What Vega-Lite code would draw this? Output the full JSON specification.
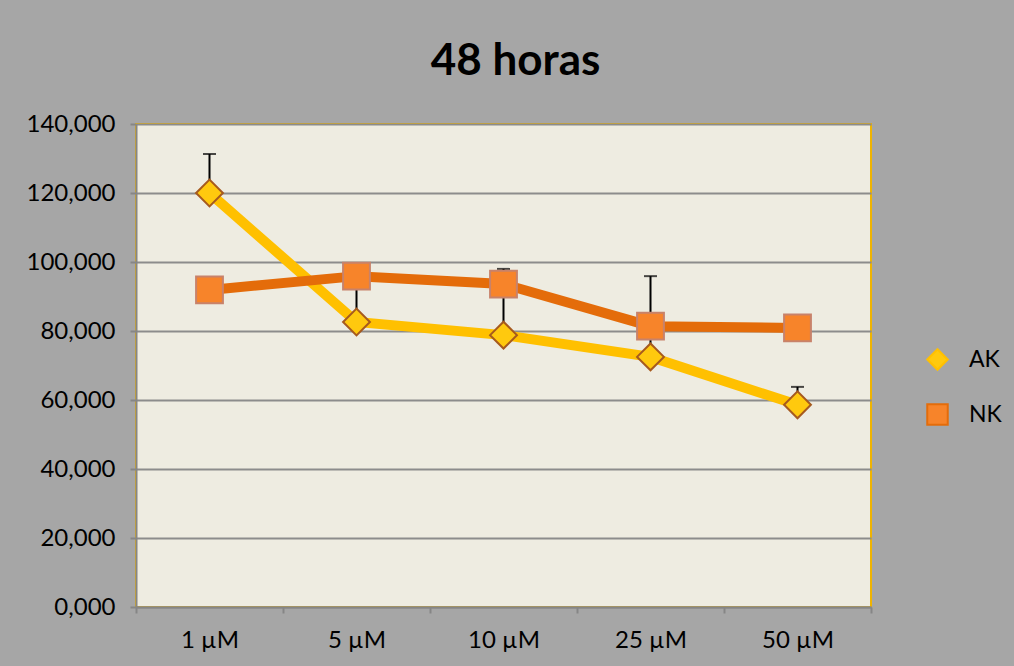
{
  "$schema": "https://vega.github.io/schema/vega-lite/v6.json",
  "width": 735,
  "height": 483,
  "autosize": {"type": "none"},
  "padding": {"left": 136, "top": 124, "right": 143, "bottom": 59},
  "background": "#a6a6a6",
  "config": {
    "locale": {"number": {"decimal": ",", "thousands": ".", "grouping": [3], "currency": ["", "€"]}},
    "font": "Lato",
    "view": {"fill": "#eeece1", "stroke": "#f0b400", "strokeWidth": 2},
    "legend": {"padding": 0, "labelFontSize": 23, "labelColor": "#000000", "rowPadding": 26, "labelOffset": 20, "titlePadding": 0}
  },
  "title": {"text": "48 horas", "fontSize": 44, "fontWeight": "bold", "font": "Lato", "color": "#000000", "offset": 28, "dx": 12},
  "data": {"values": [
    {"conc": "1 µM", "serie": "AK", "value": 120.0, "upper": 131.3},
    {"conc": "5 µM", "serie": "AK", "value": 82.6, "upper": 93.0},
    {"conc": "10 µM", "serie": "AK", "value": 78.8, "upper": 90.0},
    {"conc": "25 µM", "serie": "AK", "value": 72.5, "upper": 78.0},
    {"conc": "50 µM", "serie": "AK", "value": 58.6, "upper": 63.8},
    {"conc": "1 µM", "serie": "NK", "value": 91.9, "upper": null},
    {"conc": "5 µM", "serie": "NK", "value": 95.9, "upper": null},
    {"conc": "10 µM", "serie": "NK", "value": 93.6, "upper": 98.0},
    {"conc": "25 µM", "serie": "NK", "value": 81.4, "upper": 95.9},
    {"conc": "50 µM", "serie": "NK", "value": 80.9, "upper": null}
  ]},
  "encoding": {
    "x": {
      "field": "conc", "type": "nominal",
      "sort": ["1 µM", "5 µM", "10 µM", "25 µM", "50 µM"],
      "scale": {"paddingInner": 0, "paddingOuter": 0},
      "axis": {"title": null, "labelAngle": 0, "labelFontSize": 24, "labelColor": "#000000", "labelPadding": 15,
               "tickBand": "extent", "tickColor": "#868686", "tickSize": 6, "tickWidth": 2,
               "domainColor": "#868686", "domainWidth": 2, "grid": false}
    }
  },
  "layer": [
    {
      "mark": {"type": "line", "strokeWidth": 10},
      "encoding": {
        "y": {"field": "value", "type": "quantitative",
              "scale": {"domain": [0, 140]},
              "axis": {"title": null, "values": [0, 20, 40, 60, 80, 100, 120, 140], "format": ".3f",
                       "labelFontSize": 24, "labelColor": "#000000", "labelPadding": 15,
                       "tickColor": "#868686", "tickSize": 6, "tickWidth": 2,
                       "domainColor": "#868686", "domainWidth": 2,
                       "grid": true, "gridColor": "#8c8c8c", "gridWidth": 2}},
        "color": {"field": "serie", "type": "nominal", "title": null, "scale": {"domain": ["AK", "NK"], "range": ["#ffc000", "#e46c0a"]},
                  "legend": {"orient": "none", "legendX": 790, "legendY": 224, "symbolStrokeWidth": 2, "symbolSize": 420}}
      }
    },
    {
      "transform": [{"filter": "datum.upper != null"}],
      "mark": {"type": "rule", "color": "#000000", "strokeWidth": 2},
      "encoding": {"y": {"field": "value", "type": "quantitative"}, "y2": {"field": "upper"}}
    },
    {
      "transform": [{"filter": "datum.upper != null"}],
      "mark": {"type": "tick", "color": "#000000", "thickness": 2, "size": 13},
      "encoding": {"y": {"field": "upper", "type": "quantitative"}}
    },
    {
      "mark": {"type": "point", "filled": true, "opacity": 1, "strokeWidth": 2, "size": 720},
      "encoding": {
        "y": {"field": "value", "type": "quantitative"},
        "fill": {"field": "serie", "type": "nominal", "title": null, "scale": {"domain": ["AK", "NK"], "range": ["#ffc90e", "#f7842a"]},
                 "legend": {"orient": "none", "legendX": 790, "legendY": 224, "symbolSize": 420, "symbolStrokeWidth": 2}},
        "shape": {"field": "serie", "type": "nominal", "title": null, "scale": {"domain": ["AK", "NK"], "range": ["diamond", "square"]}},
        "stroke": {"field": "serie", "type": "nominal", "title": null, "scale": {"domain": ["AK", "NK"], "range": ["#a65a1e", "#c8826a"]}}
      }
    }
  ]
}
